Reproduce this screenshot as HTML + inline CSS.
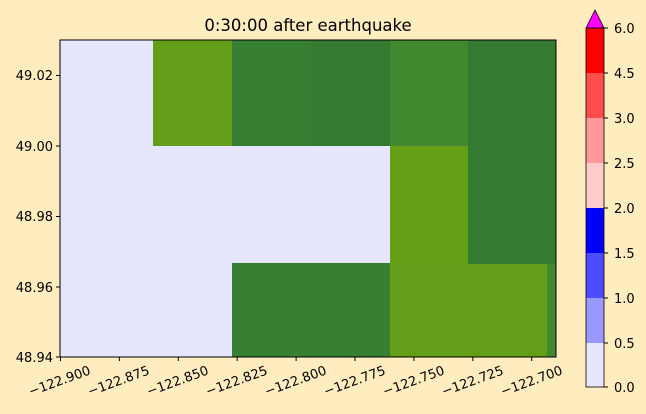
<!DOCTYPE html>
<html><head><style>
html,body{margin:0;padding:0;background:#ffecbf;}
svg{display:block;font-family:"DejaVu Sans","Liberation Sans",sans-serif;}
</style></head><body>
<svg width="646" height="414" xmlns="http://www.w3.org/2000/svg">
<rect width="646" height="414" fill="#ffecbf"/>
<text x="308" y="31" font-size="16.5" text-anchor="middle" fill="#000">0:30:00 after earthquake</text>
<g shape-rendering="crispEdges">
<rect x="60" y="40" width="496" height="317" fill="#e6e6ff"/>
<rect x="153" y="40" width="79" height="106" fill="#629e17"/>
<rect x="232" y="40" width="79" height="106" fill="#367f33"/>
<rect x="311" y="40" width="79" height="106" fill="#347b31"/>
<rect x="390" y="40" width="78" height="106" fill="#40892e"/>
<rect x="468" y="40" width="88" height="224" fill="#347b31"/>
<rect x="390" y="146" width="78" height="118" fill="#649f15"/>
<rect x="232" y="263" width="158" height="94" fill="#367f33"/>
<rect x="390" y="264" width="157" height="93" fill="#629e17"/>
<rect x="547" y="264" width="9" height="93" fill="#40892e"/>
</g>
<rect x="60" y="40" width="496" height="317" fill="none" stroke="#000" stroke-width="1"/>
<g stroke="#000" stroke-width="1">
<line x1="60.5" y1="357" x2="60.5" y2="361"/><line x1="119.4" y1="357" x2="119.4" y2="361"/><line x1="178.3" y1="357" x2="178.3" y2="361"/><line x1="237.2" y1="357" x2="237.2" y2="361"/><line x1="296.1" y1="357" x2="296.1" y2="361"/><line x1="355" y1="357" x2="355" y2="361"/><line x1="413.9" y1="357" x2="413.9" y2="361"/><line x1="472.8" y1="357" x2="472.8" y2="361"/><line x1="531.7" y1="357" x2="531.7" y2="361"/>
<line x1="56" y1="357" x2="60" y2="357"/><line x1="56" y1="287" x2="60" y2="287"/><line x1="56" y1="216.5" x2="60" y2="216.5"/><line x1="56" y1="146" x2="60" y2="146"/><line x1="56" y1="75.5" x2="60" y2="75.5"/>
</g>
<g font-size="13" fill="#000" text-anchor="end">
<text x="53" y="362">48.94</text><text x="53" y="292">48.96</text><text x="53" y="221">48.98</text><text x="53" y="151">49.00</text><text x="53" y="80">49.02</text>
</g>
<g font-size="13" fill="#000" text-anchor="middle">
<text transform="translate(61,385) rotate(-20)">−122.900</text>
<text transform="translate(120,385) rotate(-20)">−122.875</text>
<text transform="translate(179,385) rotate(-20)">−122.850</text>
<text transform="translate(238,385) rotate(-20)">−122.825</text>
<text transform="translate(297,385) rotate(-20)">−122.800</text>
<text transform="translate(356,385) rotate(-20)">−122.775</text>
<text transform="translate(415,385) rotate(-20)">−122.750</text>
<text transform="translate(474,385) rotate(-20)">−122.725</text>
<text transform="translate(533,385) rotate(-20)">−122.700</text>
</g>
<g shape-rendering="crispEdges">
<rect x="586" y="28" width="18" height="45" fill="#ff0000"/>
<rect x="586" y="73" width="18" height="45" fill="#ff4d4d"/>
<rect x="586" y="118" width="18" height="45" fill="#ff9999"/>
<rect x="586" y="163" width="18" height="45" fill="#ffcccc"/>
<rect x="586" y="208" width="18" height="45" fill="#0000ff"/>
<rect x="586" y="253" width="18" height="45" fill="#4d4dff"/>
<rect x="586" y="298" width="18" height="45" fill="#9999ff"/>
<rect x="586" y="343" width="18" height="44" fill="#e6e6ff"/>
</g>
<polygon points="586,28 595,10 604,28" fill="#ff00ff" stroke="#000" stroke-width="0.8"/>
<rect x="586" y="28" width="18" height="359" fill="none" stroke="#000" stroke-width="0.8"/>
<g stroke="#000"><line x1="604" y1="28" x2="608" y2="28"/><line x1="604" y1="73" x2="608" y2="73"/><line x1="604" y1="118" x2="608" y2="118"/><line x1="604" y1="163" x2="608" y2="163"/><line x1="604" y1="208" x2="608" y2="208"/><line x1="604" y1="253" x2="608" y2="253"/><line x1="604" y1="298" x2="608" y2="298"/><line x1="604" y1="343" x2="608" y2="343"/><line x1="604" y1="387" x2="608" y2="387"/></g>
<g font-size="13" fill="#000">
<text x="614" y="33">6.0</text><text x="614" y="78">4.5</text><text x="614" y="123">3.0</text><text x="614" y="168">2.5</text><text x="614" y="213">2.0</text><text x="614" y="258">1.5</text><text x="614" y="303">1.0</text><text x="614" y="348">0.5</text><text x="614" y="392">0.0</text>
</g>
</svg>
</body></html>
